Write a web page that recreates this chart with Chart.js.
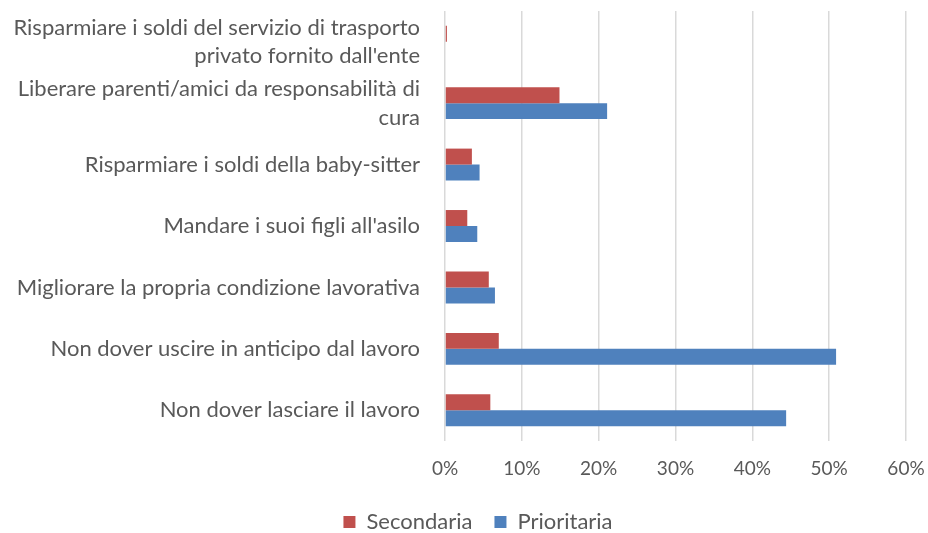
<!DOCTYPE html>
<html>
<head>
<meta charset="utf-8">
<script src="https://cdn.jsdelivr.net/npm/chart.js@4"></script>
<style>
html,body{margin:0;padding:0;background:#fff;}
#wrap{width:928px;height:533px;position:relative;}
</style>
</head>
<body>
<div id="wrap"><canvas id="c" width="928" height="533"></canvas></div>
<script>
const categories = [
  ["Risparmiare i soldi del servizio di trasporto", "privato fornito dall'ente"],
  ["Liberare parenti/amici da responsabilità di", "cura"],
  "Risparmiare i soldi della baby-sitter",
  "Mandare i suoi figli all'asilo",
  "Migliorare la propria condizione lavorativa",
  "Non dover uscire in anticipo dal lavoro",
  "Non dover lasciare il lavoro"
];
const secondaria = [0.25, 14.9, 3.5, 2.9, 5.7, 7.0, 5.9];
const prioritaria = [0, 21.1, 4.5, 4.2, 6.5, 50.9, 44.4];
const xTicks = [0, 10, 20, 30, 40, 50, 60];

const FONT = "Lato, sans-serif";
const TXT = '#595959';

const legendShift = {
  id: 'legendShift',
  afterUpdate(chart) {
    const lg = chart.legend;
    if (lg) { lg.left += 21; lg.right += 21; lg.adjustHitBoxes(); }
  }
};

new Chart(document.getElementById('c'), {
  type: 'bar',
  data: {
    labels: categories,
    datasets: [
      {label: 'Secondaria', data: secondaria, backgroundColor: '#C0504D', borderWidth: 0},
      {label: 'Prioritaria', data: prioritaria, backgroundColor: '#4F81BD', borderWidth: 0}
    ]
  },
  plugins: [legendShift],
  options: {
    indexAxis: 'y',
    responsive: false,
    animation: false,
    devicePixelRatio: 1,
    layout: {padding: {left: 8, right: 22, top: 11, bottom: -10}},
    datasets: {bar: {categoryPercentage: 0.52, barPercentage: 1}},
    scales: {
      x: {
        min: 0, max: 60,
        afterBuildTicks: (s) => { s.ticks = xTicks.map(v => ({value: v})); },
        afterFit: (s) => { s.height = 48; s.paddingLeft = 0; s.paddingRight = 0; },
        ticks: {
          callback: (v) => v + '%',
          color: TXT,
          font: {family: FONT, size: 19},
          padding: 16,
          maxRotation: 0
        },
        grid: {color: '#D9D9D9', lineWidth: 1.5, drawTicks: false},
        border: {display: false}
      },
      y: {
        afterFit: (s) => { s.width = 437; s.paddingTop = 0; s.paddingBottom = 0; },
        ticks: {
          color: TXT,
          font: {family: FONT, size: 22, lineHeight: 1.3},
          padding: 17,
          autoSkip: false
        },
        grid: {display: false},
        border: {display: false}
      }
    },
    plugins: {
      legend: {
        position: 'bottom',
        labels: {
          color: TXT,
          font: {family: FONT, size: 22},
          boxWidth: 12, boxHeight: 12,
          padding: 22
        }
      },
      tooltip: {enabled: false}
    }
  }
});
</script>
</body>
</html>
